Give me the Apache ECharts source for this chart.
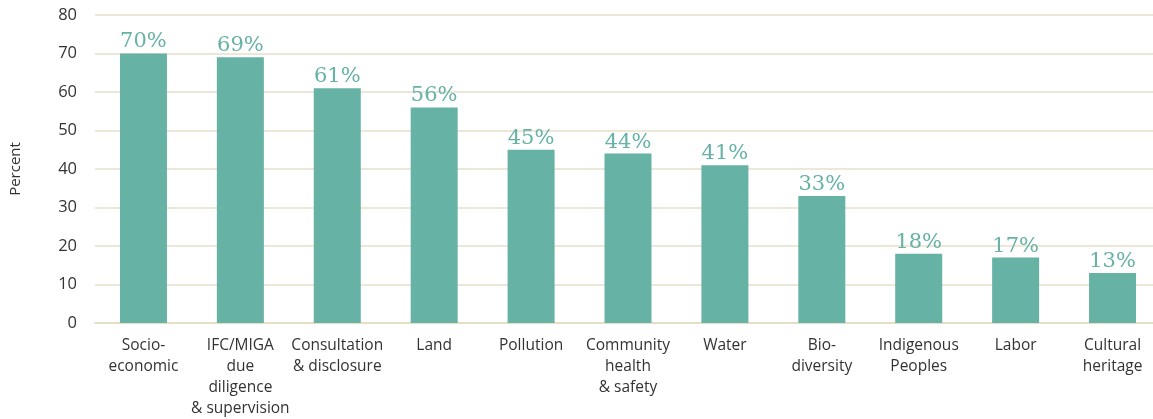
<!DOCTYPE html>
<html><head><meta charset="utf-8">
<script src="https://cdn.jsdelivr.net/npm/echarts@6/dist/echarts.min.js"></script>
<style>html,body{margin:0;padding:0;background:#fff;overflow:hidden}#c{width:1161px;height:419px}</style>
</head><body><div id="c"></div>
<script>
const categories = ["Socio-\neconomic","IFC/MIGA\ndue\ndiligence\n& supervision","Consultation\n& disclosure","Land","Pollution","Community\nhealth\n& safety","Water","Bio-\ndiversity","Indigenous\nPeoples","Labor","Cultural\nheritage"];
const values = [70,69,61,56,45,44,41,33,18,17,13];
const yTicks = [0,10,20,30,40,50,60,70,80];
const chart = echarts.init(document.getElementById('c'));
chart.setOption({
  animation:false,
  grid:{left:95,right:0,top:15,bottom:93,containLabel:false},
  xAxis:{type:'category',data:categories,
    axisLine:{show:true,lineStyle:{color:'#e6dfc8',width:2}},
    axisTick:{show:false},
    axisLabel:{interval:0,color:'#333',fontFamily:'Open Sans, Noto Sans, sans-serif',fontSize:15.5,lineHeight:21,margin:12}},
  yAxis:{type:'value',min:yTicks[0],max:yTicks[yTicks.length-1],interval:10,
    name:'Percent',nameLocation:'middle',nameGap:72,nameRotate:90,
    nameTextStyle:{color:'#333',fontFamily:'Open Sans, Noto Sans, sans-serif',fontSize:15},
    axisLine:{show:false},axisTick:{show:false},
    axisLabel:{color:'#333',fontFamily:'Open Sans, Noto Sans, sans-serif',fontSize:16.5,margin:18},
    splitLine:{lineStyle:{color:'#e6dfc8',width:1.5}}},
  series:[{type:'bar',data:values,barWidth:'48.5%',
    itemStyle:{color:'#66b2a5'},
    label:{show:true,position:'top',distance:1,formatter:'{c}%',color:'#66b2a5',
      fontFamily:'DejaVu Serif, serif',fontSize:21}}]
});
</script></body></html>
